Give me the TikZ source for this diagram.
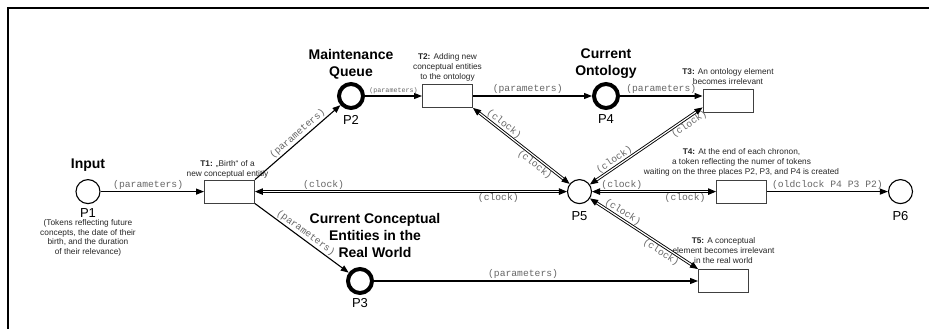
\documentclass[tikz,border=0pt]{standalone}
\usepackage{fontspec}
\setmainfont{Liberation Sans}
\setmonofont{Liberation Mono}
\usetikzlibrary{positioning, arrows.meta}

\newcommand{\headfont}{\fontsize{14}{17}\selectfont\bfseries}
\newcommand{\notefont}{\fontsize{8.3}{10}\selectfont}
\newcommand{\arcfont}{\fontsize{9.7}{11}\selectfont\ttfamily}

\begin{document}
\begin{tikzpicture}[x=1pt, y=1pt,
        place/.style={circle, draw, line width=1.1pt, minimum size=24pt, inner sep=0pt},
        bigplace/.style={place, line width=4pt},
        trans/.style={rectangle, draw=black!75, line width=0.9pt, minimum width=50pt, minimum height=23pt},
        parc/.style={line width=1.1pt, -{Triangle[length=8pt, width=6pt]}},
        clockarc/.style={double, line width=0.9pt, double distance=1.2pt,
                {Triangle[length=8pt, width=6.5pt]}-{Triangle[length=8pt, width=6.5pt]}},
        lab/.style={font=\arcfont, text=black!60, inner sep=1.5pt},
        heading/.style={font=\headfont, align=center, inner sep=0pt},
        pname/.style={font=\fontsize{13}{15}\selectfont, inner sep=0pt},
        note/.style={font=\notefont, text=black!85, align=center, inner sep=0pt}]
        \useasboundingbox (0,0) rectangle (929,329);
        \draw[line width=2.4pt] (7.8,0) -- (7.8,321.2) -- (929,321.2);

        % places and transitions
        \node[place] (P1) at (88,137.4) {};
        \node[trans] (T1) at (229.5,137.4) {};
        \node[bigplace] (P2) at (351,233) {};
        \node[trans] (T2) at (447.5,233) {};
        \node[bigplace] (P4) at (606,233) {};
        \node[trans] (T3) at (728,228.5) {};
        \node[place] (P5) at (579.5,137.4) {};
        \node[trans] (T4) at (741.5,137.4) {};
        \node[place] (P6) at (900.5,137.4) {};
        \node[bigplace] (P3) at (360,48) {};
        \node[trans] (T5) at (723.5,48) {};

        % names of the places
        \node[heading, above=7pt of P1] (P1head) {Input};
        \node[heading, above=3pt of P2] (P2head) {Maintenance\\Queue};
        \node[heading, above=3pt of P4] (P4head) {Current\\Ontology};
        \node[heading, above=9pt of P3, xshift=15pt] (P3head) {Current Conceptual\\Entities in the\\Real World};
        \node[pname, below=4pt of P1] (P1lbl) {P1};
        \node[pname, below=5pt of P2] (P2lbl) {P2};
        \node[pname, below=3pt of P3] (P3lbl) {P3};
        \node[pname, below=4pt of P4] (P4lbl) {P4};
        \node[pname, below=7pt of P5] (P5lbl) {P5};
        \node[pname, below=7pt of P6] (P6lbl) {P6};
        \node[note, font=\fontsize{8.3}{9.5}\selectfont, below=2pt of P1lbl] (P1note)
                {(Tokens reflecting future\\concepts, the date of their\\birth, and the duration\\of their relevance)};

        % what the transitions do
        \node[note, above=1pt of T1, xshift=-2pt] (T1note) {\textbf{T1:} „Birth“ of a\\new conceptual entitiy};
        \node[note, above=3pt of T2] (T2note) {\textbf{T2:} Adding new\\conceptual entities\\to the ontology};
        \node[note, above=4pt of T3] (T3note) {\textbf{T3:} An ontology element\\becomes irrelevant};
        \node[note, above=3pt of T4] (T4note) {\textbf{T4:} At the end of each chronon,\\a token reflecting the numer of tokens\\waiting on the three places P2, P3, and P4 is created};
        \node[note, above=5pt of T5] (T5note) {\textbf{T5:} A conceptual\\element becomes irrelevant\\in the real world};

        % parameter arcs
        \foreach \a/\b in {P1/T1, T2/P4, P3/T5} {
                \draw[parc] (\a) -- node[lab, above, pos=0.46] (par-\a) {(parameters)} (\b);
        }
        \draw[parc] (T1.north east) -- node[lab, sloped, above, pos=0.55] (par-T1a) {(parameters)} (P2);
        \draw[parc] (T1.south east) -- node[lab, sloped, above, pos=0.5] (par-T1b) {(parameters)} (P3);
        \draw[parc] (P2) -- node[lab, font=\fontsize{6.7}{8}\selectfont\ttfamily, above] (par-P2) {(parameters)} (T2);
        \draw[parc] (P4) -- node[lab, above] (par-P4) {(parameters)} (P4 -| T3.west);
        \draw[parc] (T4) -- node[lab, above] (old-T4) {(oldclock P4 P3 P2)} (P6);

        % clock arcs, both ways
        \draw[clockarc] (T1.east) -- node[lab, above, pos=0.22] (clk-T1a) {(clock)}
                node[lab, below, pos=0.78] (clk-T1b) {(clock)} (P5.west);
        \draw[clockarc] (T2.south east) -- node[lab, sloped, above, pos=0.28] (clk-T2a) {(clock)}
                node[lab, sloped, below, pos=0.68] (clk-T2b) {(clock)} (P5);
        \draw[clockarc] (P5) -- node[lab, sloped, above, pos=0.25] (clk-T3a) {(clock)}
                node[lab, sloped, below, pos=0.85] (clk-T3b) {(clock)} ([yshift=5pt]T3.south west);
        \draw[clockarc] (P5.east) -- node[lab, above, pos=0.24] (clk-T4a) {(clock)}
                node[lab, below, pos=0.75] (clk-T4b) {(clock)} (T4.west);
        \draw[clockarc] (P5) -- node[lab, sloped, above, pos=0.27] (clk-T5a) {(clock)}
                node[lab, sloped, below, pos=0.69] (clk-T5b) {(clock)} (T5.north west);
\end{tikzpicture}
\end{document}
